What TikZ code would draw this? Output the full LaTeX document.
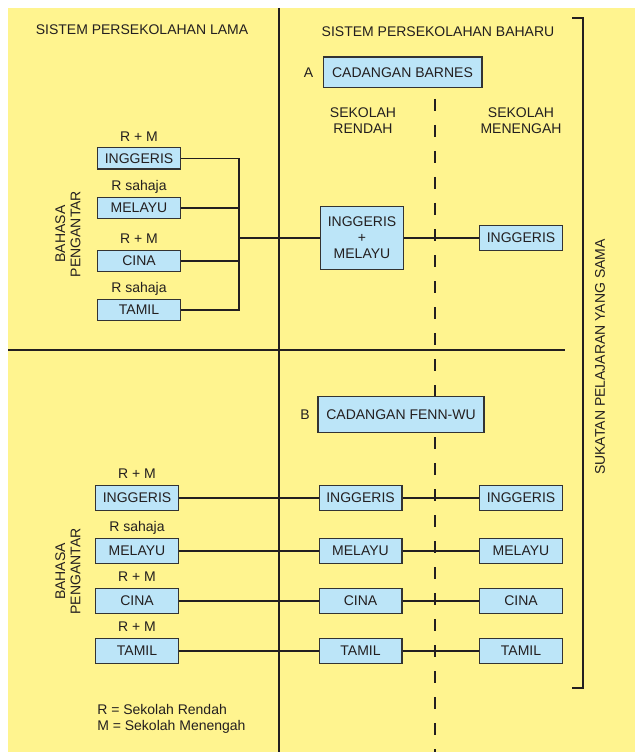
\documentclass[tikz,border=0pt]{standalone}
\usepackage{fontspec}
\setmainfont{Liberation Sans}
\usetikzlibrary{positioning,calc}
\definecolor{Paper}{HTML}{FFF48F}
\definecolor{BoxF}{HTML}{BCE5F8}
\definecolor{Ink}{HTML}{231F20}
\definecolor{Edge}{HTML}{333333}

\begin{document}
\begin{tikzpicture}[x=0.75pt,y=-0.75pt,
    font=\fontsize{10.5}{12}\selectfont, text=Ink,
    box/.style={draw=Edge,fill=BoxF,line width=1pt,inner sep=0pt,
      minimum width=62pt,minimum height=18.5pt,align=center},
    sbox/.style={box,minimum height=16pt},
    lbl/.style={inner sep=0pt,text height=7.6pt,text depth=0pt},
    lang/.style={align=center,rotate=90,font=\fontsize{10.5}{11.5}\selectfont},
    wire/.style={draw=Ink,line width=0.9pt},
    sep/.style={draw=Ink,line width=1.1pt}]
  \useasboundingbox (0,0) rectangle (635,752);
  \fill[Paper] (8,8) rectangle (635,752);
  % frame lines
  \draw[sep] (279,8) -- (279,752);
  \draw[sep] (8,350) -- (565,350);
  \draw[wire,dash pattern=on 9pt off 10.5pt] (435,99) -- (435,752);
  \draw[wire] (572,18) -- (583,18) -- (583,688) -- (572,688);
  \node[rotate=90] (same) at (600,357) {SUKATAN PELAJARAN YANG SAMA};
  \node (tOld) at (142,30) {SISTEM PERSEKOLAHAN LAMA};
  \node (tNew) at (438,32) {SISTEM PERSEKOLAHAN BAHARU};
  % proposal A
  \node[box,minimum width=119pt,minimum height=23pt] (A) at (402.5,72.5) {CADANGAN BARNES};
  \node[left=3.5pt of A] (Atag) {A};
  \node[align=center] (sRen) at (363,121) {SEKOLAH\\RENDAH};
  \node[align=center] (sMen) at (521,121) {SEKOLAH\\MENENGAH};
  % old system, upper
  \node[sbox] (oE) at (139,158.5) {INGGERIS};
  \node[sbox] (oM) at (139,208) {MELAYU};
  \node[sbox] (oC) at (139,261) {CINA};
  \node[sbox] (oT) at (139,310) {TAMIL};
  \node[lbl,above=4.4pt of oE] (oEr) {R + M};
  \node[lbl,above=4.4pt of oM] (oMr) {R sahaja};
  \node[lbl,above=4.4pt of oC] (oCr) {R + M};
  \node[lbl,above=4.4pt of oT] (oTr) {R sahaja};
  \node[lang] (oLang) at (68,234) {BAHASA\\PENGANTAR};
  \node[box,minimum height=47pt] (IM) at (362,238) {INGGERIS\\+\\MELAYU};
  \node[box] (oR) at (521,238) {INGGERIS};
  \coordinate (bus) at (239,238);
  \draw[wire] (oE.east) -- (oE.east -| bus) -- (oT.east -| bus) -- (oT.east);
  \draw[wire] (oM.east) -- (oM.east -| bus);
  \draw[wire] (oC.east) -- (oC.east -| bus);
  \draw[wire] (bus) -- (IM.west);
  \draw[wire] (IM.east) -- (oR.west);
  % proposal B
  \node[box,minimum width=124.5pt,minimum height=27pt] (B) at (401,414.7) {CADANGAN FENN-WU};
  \node[left=2.2pt of B] (Btag) {B};
  \node[box] (nE) at (137,498) {INGGERIS};
  \node[box] (nM) at (137,551) {MELAYU};
  \node[box] (nC) at (137,601) {CINA};
  \node[box] (nT) at (137,651) {TAMIL};
  \node[lbl,above=4.4pt of nE] (nEr) {R + M};
  \node[lbl,above=4.4pt of nM] (nMr) {R sahaja};
  \node[lbl,above=4.4pt of nC] (nCr) {R + M};
  \node[lbl,above=4.4pt of nT] (nTr) {R + M};
  \node[lang] (nLang) at (68,571.5) {BAHASA\\PENGANTAR};
  \node[box] (mE) at (360.5,498) {INGGERIS};
  \node[box] (mM) at (360.5,551) {MELAYU};
  \node[box] (mC) at (360.5,601) {CINA};
  \node[box] (mT) at (360.5,651) {TAMIL};
  \node[box] (rE) at (521,498) {INGGERIS};
  \node[box] (rM) at (521,551) {MELAYU};
  \node[box] (rC) at (521,601) {CINA};
  \node[box] (rT) at (521,651) {TAMIL};
  \draw[wire] (nE) -- (mE) -- (rE);
  \draw[wire] (nM) -- (mM) -- (rM);
  \draw[wire] (nC) -- (mC) -- (rC);
  \draw[wire] (nT) -- (mT) -- (rT);
  % key
  \node[align=left,anchor=west,inner sep=0pt] (key) at (97,718.7) {R = Sekolah Rendah\\M = Sekolah Menengah};
\end{tikzpicture}
\end{document}
